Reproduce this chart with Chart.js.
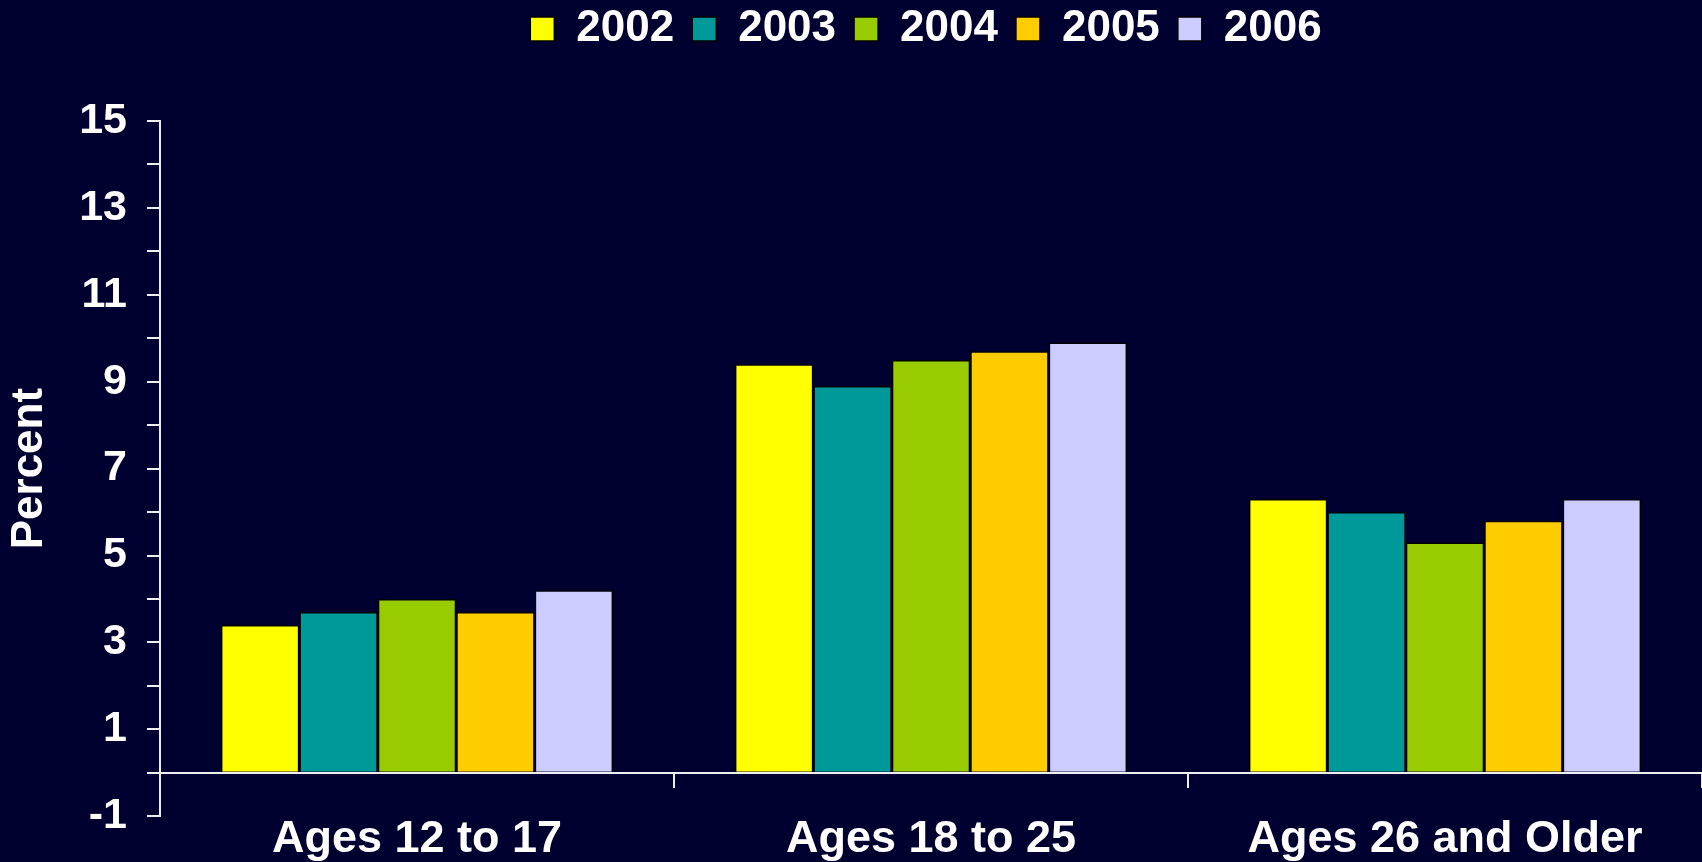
<!DOCTYPE html>
<html>
<head>
<meta charset="utf-8">
<title>Percent by age group, 2002-2006</title>
<script src="https://cdn.jsdelivr.net/npm/chart.js@4.4.1/dist/chart.umd.min.js"></script>
<style>
html, body { margin:0; padding:0; background:#000030; }
#wrap { width:1702px; height:862px; }
</style>
</head>
<body>
<div id="wrap"><canvas id="ageChart"></canvas></div>
<script>

// data
const ageGroups = ['Ages 12 to 17', 'Ages 18 to 25', 'Ages 26 and Older'];
const yearLabels = ['2002', '2003', '2004', '2005', '2006'];

const values2002 = [3.4, 9.4, 6.3];
const values2003 = [3.7, 8.9, 6.0];
const values2004 = [4.0, 9.5, 5.3];
const values2005 = [3.7, 9.7, 5.8];
const values2006 = [4.2, 9.9, 6.3];

const yTickLabels = [-1, 1, 3, 5, 7, 9, 11, 13, 15];

const yearColors = ['#FFFF00', '#009999', '#99CC00', '#FFCC00', '#CCCCFF'];
const seriesValues = [values2002, values2003, values2004, values2005, values2006];

const axisColor = '#EEEEEE';

Chart.defaults.font.family = "'Liberation Sans', Arial, sans-serif";
Chart.defaults.font.weight = 'bold';
Chart.defaults.color = '#FFFFFF';

// legend sits right at the top and a bit left of the plot centre
const legendFontSize = 44;
const legendPadding = 18;
const moveLegend = {
id: 'moveLegend',
afterLayout(chart) {
const lg = chart.legend;
if (!lg || lg._moved) return;
lg._moved = true;
const drawLegend = lg.draw.bind(lg);
lg.draw = function(area) {
const ctx = chart.ctx;
const mid = lg.top + legendPadding + legendFontSize / 2;
ctx.save();
ctx.translate(926 - (lg.left + lg.right) / 2, 29 - mid);
drawLegend(area);
ctx.restore();
};
}
};

const datasets = yearLabels.map((year, i) => ({
label: year,
data: seriesValues[i],
backgroundColor: yearColors[i],
borderColor: '#000000',
borderWidth: 1.5,
categoryPercentage: 0.763,
barPercentage: 1.0
}));

const ctx = document.getElementById('ageChart').getContext('2d');

const ageChart = new Chart(ctx, {
type: 'bar',
data: {
labels: ageGroups,
datasets: datasets
},
plugins: [moveLegend],
options: {
responsive: true,
maintainAspectRatio: false,
animation: false,
layout: {
padding: { top: 49, bottom: 45, left: 0, right: -5 }
},
plugins: {
legend: {
display: true,
position: 'top',
labels: {
boxWidth: 24,
boxHeight: 24,
padding: legendPadding,
color: '#FFFFFF',
font: { size: legendFontSize, weight: 'bold' }
}
},
tooltip: { enabled: false }
},
scales: {
x: {
position: { y: 0 },
grid: {
offset: true,
drawOnChartArea: false,
tickLength: 14,
color: axisColor,
lineWidth: 2
},
border: { display: true, color: axisColor, width: 2 },
ticks: {
color: '#FFFFFF',
font: { size: 45, weight: 'bold' },
padding: 26,
maxRotation: 0,
autoSkip: false
}
},
y: {
min: -1,
max: 15,
grid: {
drawOnChartArea: false,
tickLength: 13,
color: axisColor,
lineWidth: 2
},
border: { display: true, color: axisColor, width: 2 },
ticks: {
stepSize: 1,
autoSkip: false,
padding: 20,
color: '#FFFFFF',
font: { size: 43, weight: 'bold' },
callback: v => yTickLabels.includes(v) ? v : ''
},
title: {
display: true,
text: 'Percent',
color: '#FFFFFF',
font: { size: 44, weight: 'bold' },
padding: { top: 3, bottom: 0 }
},
afterFit(scale) {
scale.width = 160;
}
}
}
}
});
</script>
</body>
</html>
